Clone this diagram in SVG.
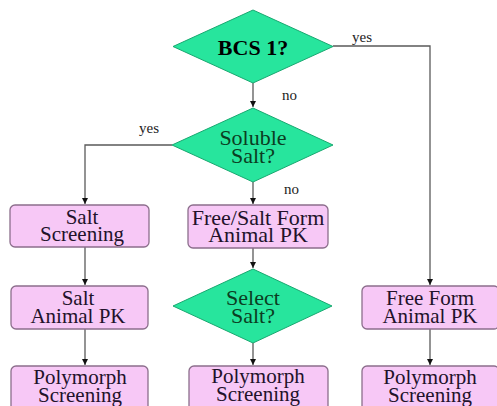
<svg xmlns="http://www.w3.org/2000/svg" width="497" height="406" viewBox="0 0 497 406">
<defs>
<style>
text{font-family:"Liberation Serif","Times New Roman",Times,serif}
.box{fill:#f7c8f6;stroke:#8c6e8c;stroke-width:1.3}
.dia{fill:#27e59d;stroke:#18a870;stroke-width:1}
.bt{font-size:21px;fill:#22122a;text-anchor:middle}
.dt{font-size:22px;fill:#0b3d22;text-anchor:middle}
.lbl{font-size:15px;fill:#222}
.con{fill:none;stroke:#5a5a5a;stroke-width:1.3}
</style>
<marker id="ah" viewBox="0 0 10 10" refX="10" refY="5" markerWidth="6" markerHeight="6" markerUnits="userSpaceOnUse" orient="auto">
<path d="M0,0 L10,5 L0,10 z" fill="#111"/>
</marker>
</defs>
<rect width="497" height="406" fill="#fff"/>
<g id="connectors">
<path class="con" d="M253,83 V107" marker-end="url(#ah)"/>
<path class="con" d="M333,46 H430 V285" marker-end="url(#ah)"/>
<path class="con" d="M172,145 H85 V204" marker-end="url(#ah)"/>
<path class="con" d="M253,182 V204" marker-end="url(#ah)"/>
<path class="con" d="M253,248 V268" marker-end="url(#ah)"/>
<path class="con" d="M253,343 V365" marker-end="url(#ah)"/>
<path class="con" d="M85,247 V285" marker-end="url(#ah)"/>
<path class="con" d="M85,329 V365" marker-end="url(#ah)"/>
<path class="con" d="M430,329 V365" marker-end="url(#ah)"/>
<text class="lbl" x="282" y="100">no</text>
<text class="lbl" x="352" y="42">yes</text>
<text class="lbl" x="139" y="133">yes</text>
<text class="lbl" x="284" y="194">no</text>
</g>
<g id="bcs1">
<polygon class="dia" points="253,10 333,46.5 253,83 173,46.5"/>
<text x="253" y="55" style="font-size:22px;font-weight:bold;fill:#000;text-anchor:middle">BCS 1?</text>
</g>
<g id="soluble">
<polygon class="dia" points="253,108 333,145 253,182 172,145"/>
<text class="dt" x="253" y="145">Soluble</text>
<text class="dt" x="253" y="163">Salt?</text>
</g>
<g id="salt-screening">
<rect class="box" x="10" y="205" width="139" height="42" rx="5"/>
<text class="bt" x="82" y="224">Salt</text>
<text class="bt" x="82" y="241">Screening</text>
</g>
<g id="free-salt-pk">
<rect class="box" x="188" y="205" width="140" height="43" rx="5"/>
<text class="bt" x="258" y="225" style="font-size:22px">Free/Salt Form</text>
<text class="bt" x="258" y="242" style="font-size:22px">Animal PK</text>
</g>
<g id="salt-pk">
<rect class="box" x="11" y="286" width="137" height="43" rx="5"/>
<text class="bt" x="78" y="305">Salt</text>
<text class="bt" x="78" y="323">Animal PK</text>
</g>
<g id="select-salt">
<polygon class="dia" points="253,269 332,306 253,343 173,306"/>
<text class="dt" x="253" y="305">Select</text>
<text class="dt" x="253" y="323">Salt?</text>
</g>
<g id="free-pk">
<rect class="box" x="362" y="286" width="137" height="43" rx="5"/>
<text class="bt" x="430" y="305">Free Form</text>
<text class="bt" x="430" y="323">Animal PK</text>
</g>
<g id="poly1">
<rect class="box" x="11" y="366" width="137" height="46" rx="5"/>
<text class="bt" x="80" y="384">Polymorph</text>
<text class="bt" x="80" y="402">Screening</text>
</g>
<g id="poly2">
<rect class="box" x="189" y="366" width="139" height="46" rx="5"/>
<text class="bt" x="258" y="383">Polymorph</text>
<text class="bt" x="258" y="401">Screening</text>
</g>
<g id="poly3">
<rect class="box" x="362" y="366" width="137" height="46" rx="5"/>
<text class="bt" x="430" y="384">Polymorph</text>
<text class="bt" x="430" y="402">Screening</text>
</g>
</svg>
